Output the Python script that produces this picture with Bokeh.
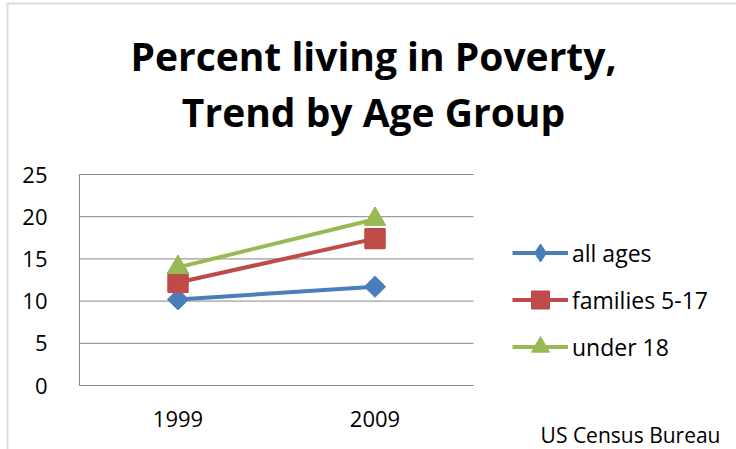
import math
from bokeh.plotting import figure
from bokeh.models import Range1d, Legend, LegendItem, Label, FixedTicker, BoxAnnotation
from bokeh.embed import file_html
from bokeh.resources import INLINE

years = ["1999", "2009"]
all_ages = [10.2, 11.7]
families_5_17 = [12.2, 17.4]
under_18 = [14.0, 19.7]
y_ticks = [0, 5, 10, 15, 20, 25]

series_names = ["all ages", "families 5-17", "under 18"]
series_values = [all_ages, families_5_17, under_18]
series_colors = ["#4A7EBB", "#BE4B48", "#98B954"]

title_lines = ["Percent living in Poverty,", "Trend by Age Group"]
source_note = "US Census Bureau"

FONT = "Open Sans"
W, H = 736, 449
# plot-area placement on the canvas (pixels)
AREA_LEFT, AREA_BOTTOM, AREA_W, AREA_H = 79, 64, 394, 211
Y_MAX = 25
n = len(years)
px_x = AREA_W / n
px_y = AREA_H / Y_MAX

xpos = [i + 0.5 for i in range(n)]

p = figure(width=W, height=H,
           x_range=Range1d(-AREA_LEFT / px_x, (W - AREA_LEFT) / px_x),
           y_range=Range1d(-AREA_BOTTOM / px_y, (H - AREA_BOTTOM) / px_y),
           output_backend="svg", toolbar_location=None, min_border=0)
p.outline_line_color = None
p.title = None
p.xgrid.visible = False
p.ygrid.visible = False

# axes, pinned to the plot-area corner
p.yaxis.fixed_location = 0
p.yaxis.bounds = (0, Y_MAX)
p.yaxis.ticker = FixedTicker(ticks=y_ticks)
p.yaxis.major_tick_line_color = None
p.yaxis.minor_tick_line_color = None
p.yaxis.axis_line_color = "#868686"
p.yaxis.major_label_text_font = FONT
p.yaxis.major_label_text_font_size = "22px"
p.yaxis.major_label_text_color = "black"
p.yaxis.major_label_standoff = 26

p.xaxis.fixed_location = 0
p.xaxis.bounds = (0, n)
p.xaxis.ticker = FixedTicker(ticks=xpos)
p.xaxis.major_label_overrides = {x: y for x, y in zip(xpos, years)}
p.xaxis.major_tick_line_color = None
p.xaxis.minor_tick_line_color = None
p.xaxis.axis_line_color = "#868686"
p.xaxis.major_label_text_font = FONT
p.xaxis.major_label_text_font_size = "22px"
p.xaxis.major_label_text_color = "black"
p.xaxis.major_label_standoff = 19

# horizontal gridlines across the plot area
p.segment(x0=[0] * len(y_ticks), x1=[n] * len(y_ticks), y0=y_ticks, y1=y_ticks,
          line_color="#868686", line_width=1)

# (legend marker, plot marker, plot size, plot angle)
marker_specs = [("diamond", "square", 15, math.pi / 4),
                ("square", "square", 20, 0),
                ("triangle", "triangle", 21, 0)]
items = []
for name, vals, color, (lmark, pmark, size, ang) in zip(series_names, series_values, series_colors, marker_specs):
    r1 = p.line(xpos, vals, line_color=color, line_width=4)
    r0 = p.scatter(xpos, vals, marker=lmark, size=size, fill_color=color, line_color=color)
    p.scatter(xpos, vals, marker=pmark, size=size, angle=ang, fill_color=color, line_color=color)
    items.append(LegendItem(label=name, renderers=[r1, r0]))

legend = Legend(items=items, location=(512, 80), glyph_width=56, glyph_height=45,
                label_standoff=4, spacing=2, padding=0, margin=0,
                label_text_font=FONT, label_text_font_size="23px", label_text_color="black",
                label_height=45, border_line_color=None, background_fill_alpha=0)
p.add_layout(legend, "center")

for text, yb in zip(title_lines, [H - 55, H - 110.5]):
    p.add_layout(Label(x=373, y=yb, x_units="screen", y_units="screen", text=text,
                       text_font=FONT, text_font_style="bold", text_font_size="39px",
                       text_align="center", text_baseline="alphabetic", text_color="black"))
p.add_layout(Label(x=720, y=15, x_units="screen", y_units="screen", text=source_note,
                   text_font=FONT, text_font_size="21px", text_color="black",
                   text_align="right", text_baseline="middle"))

# outer chart-box border (left and top edges)
p.add_layout(BoxAnnotation(left=7, right=W + 50, bottom=-50, top=H - 3,
                           left_units="screen", right_units="screen",
                           bottom_units="screen", top_units="screen",
                           fill_alpha=0, line_color="#8C8C8C", line_width=2))

open("out.html", "w").write(file_html(p, INLINE))
